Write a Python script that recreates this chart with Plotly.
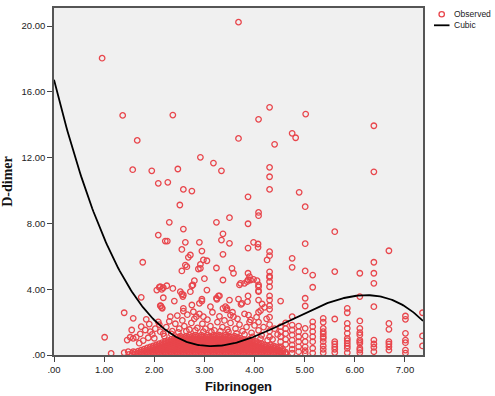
import numpy as np
import plotly.graph_objects as go

# ---------------- data ----------------
x_tick_vals = [0, 1, 2, 3, 4, 5, 6, 7]
x_tick_text = [".00", "1.00", "2.00", "3.00", "4.00", "5.00", "6.00", "7.00"]
y_tick_vals = [0, 4, 8, 12, 16, 20]
y_tick_text = [".00", "4.00", "8.00", "12.00", "16.00", "20.00"]
legend_labels = ["Observed", "Cubic"]

# isolated high observations (Fibrinogen, D-dimer)
high_pts = [
    (0.96, 18.05), (3.68, 20.24), (2.37, 14.59), (4.30, 15.06), (4.08, 14.33), (5.02, 14.65),
    (3.68, 13.17), (4.75, 13.48), (4.82, 13.21), (4.40, 12.81), (2.92, 12.02), (3.18, 11.67),
    (3.34, 11.20), (2.47, 11.31), (1.95, 11.20), (2.08, 10.44), (2.27, 10.50), (2.58, 10.07),
    (2.75, 9.97), (4.30, 11.41), (4.30, 10.84), (4.30, 10.07), (3.87, 9.62), (4.89, 9.89),
    (1.37, 14.57), (1.66, 13.05), (1.57, 11.27), (6.38, 13.94), (6.38, 11.14), (2.51, 9.12),
    (5.01, 9.02),
]

# mid-range observations
mid_pts = [
    (5.60, 7.50), (5.01, 6.77), (6.68, 6.34), (4.75, 5.88), (4.75, 5.33), (5.01, 5.11),
    (5.16, 4.86), (5.60, 5.07), (6.10, 4.97), (6.38, 5.64), (6.38, 4.97), (6.38, 4.36),
    (5.16, 4.12), (4.52, 3.28), (5.01, 3.45), (5.01, 2.98), (6.10, 3.55), (6.38, 2.94),
    (7.35, 2.57), (5.85, 2.84), (5.85, 2.57),
    (4.08, 8.67), (4.08, 8.47), (2.30, 8.07), (3.24, 8.07), (3.50, 8.35), (3.87, 7.98),
    (2.58, 7.66), (2.08, 7.29), (2.22, 6.93), (2.26, 6.93), (2.62, 6.85), (3.37, 7.37),
    (3.34, 6.99), (3.50, 6.79), (2.90, 6.85), (2.95, 6.32), (2.55, 6.42), (2.68, 5.94),
    (2.98, 5.78), (3.05, 5.73), (2.92, 5.51), (2.92, 5.27), (2.62, 5.47), (2.65, 5.37),
    (2.55, 5.11), (3.24, 5.29), (3.55, 5.27), (3.87, 4.97), (3.87, 4.56), (3.98, 6.85),
    (4.07, 6.75), (4.07, 6.55), (3.87, 6.50), (4.30, 6.28), (4.30, 6.04), (4.25, 5.78),
    (4.30, 5.06), (4.30, 4.72), (3.37, 6.12), (2.72, 6.08), (3.58, 4.97), (3.90, 4.76),
    (1.77, 5.64), (2.88, 5.23), (2.80, 4.52), (3.37, 4.56), (2.75, 4.21), (2.18, 4.09),
    (2.25, 4.21), (2.12, 4.15), (2.15, 3.99), (2.37, 4.05), (2.52, 3.85), (2.55, 3.71),
    (3.05, 3.95), (2.18, 3.48), (2.40, 3.28), (2.57, 3.55), (2.13, 2.98), (2.15, 2.88),
    (2.75, 3.04), (2.95, 3.28), (3.12, 2.94), (3.28, 3.59), (3.24, 3.45), (3.50, 3.34),
    (3.68, 3.40), (3.75, 3.14), (3.87, 3.59), (3.70, 4.26), (3.80, 4.36), (3.85, 4.46),
    (3.92, 4.56), (4.05, 4.52), (4.08, 4.15), (4.08, 3.85), (4.30, 4.15), (4.30, 3.59),
    (4.08, 3.34), (4.15, 3.10), (3.37, 2.84), (3.45, 2.84), (2.58, 2.84), (2.58, 2.67),
    (1.74, 3.51), (1.40, 2.57), (2.58, 3.65), (2.72, 3.85), (2.95, 3.39), (2.90, 3.14),
    (3.25, 3.39), (3.30, 3.59), (3.73, 3.08), (3.86, 3.24), (3.42, 2.94), (3.44, 2.74),
    (2.78, 2.63), (3.00, 4.64), (2.77, 4.26), (3.72, 4.36), (3.98, 4.60), (4.08, 4.26),
    (4.08, 3.91), (4.30, 4.80), (4.30, 4.46), (4.30, 3.34), (4.30, 2.78), (4.30, 3.00),
    (4.20, 2.90), (4.12, 2.70), (2.05, 3.95), (2.10, 4.12), (2.12, 3.00), (2.16, 2.84),
]

# lower scattered observations and the fringe above the dense band
low_pts = [
    (1.01, 1.08), (1.14, 0.10), (1.40, 0.14), (1.48, 0.20), (1.58, 0.20), (1.58, 2.23),
    (1.84, 2.17), (1.90, 1.88), (1.74, 1.72), (1.82, 1.52), (1.92, 1.42), (1.55, 1.52),
    (1.52, 1.08), (1.64, 1.08), (1.72, 1.28), (1.46, 0.91), (1.58, 1.01), (2.08, 2.02),
    (2.12, 1.42), (2.32, 2.33), (2.98, 2.33), (2.84, 2.33), (3.52, 2.43), (3.58, 2.33),
    (3.88, 2.43), (3.92, 2.13),
    (1.96, 1.25), (2.02, 1.60), (2.10, 1.85), (2.18, 1.30), (2.24, 1.70), (2.30, 2.05),
    (2.36, 1.45), (2.42, 1.90), (2.46, 2.40), (2.50, 1.60), (2.56, 2.10), (2.60, 1.75),
    (2.66, 2.45), (2.70, 1.55), (2.74, 1.95), (2.80, 2.20), (2.86, 1.65), (2.90, 2.50),
    (2.96, 1.90), (3.02, 1.60), (3.06, 2.15), (3.12, 1.75), (3.16, 2.60), (3.20, 1.50),
    (3.26, 2.00), (3.30, 2.35), (3.36, 1.70), (3.40, 2.10), (3.46, 1.55), (3.52, 1.95),
    (3.56, 2.60), (3.62, 1.60), (3.66, 2.20), (3.70, 1.85), (3.76, 1.45), (3.80, 2.50),
    (3.84, 1.70), (3.90, 2.00), (3.94, 1.35), (4.00, 1.80), (4.04, 2.30), (4.08, 1.50),
    (4.08, 2.00), (4.08, 2.60), (4.14, 1.20), (4.18, 1.70), (4.24, 2.20), (4.30, 1.10),
    (4.30, 1.45), (4.30, 1.85), (4.30, 2.30), (4.36, 0.95), (4.40, 1.60), (4.46, 1.25),
    (2.20, 1.15), (2.34, 1.28), (2.48, 1.38), (2.64, 1.45), (2.82, 1.50), (2.98, 1.42),
    (3.14, 1.40), (3.32, 1.45), (3.48, 1.40), (3.64, 1.32), (3.80, 1.25), (3.96, 1.10),
    (4.12, 1.00), (4.26, 0.90), (1.70, 0.72), (1.78, 0.88), (1.88, 1.05), (2.00, 1.02),
]

# dense band at the bottom: two staggered sets of D-dimer levels, and per column
# (Fibrinogen, which level set, how many levels are filled up from the axis)
band_levels_a = [0.04, 0.17, 0.30, 0.43, 0.56, 0.69, 0.82, 0.95, 1.08, 1.21]
band_levels_b = [0.10, 0.23, 0.36, 0.49, 0.62, 0.75, 0.88, 1.01, 1.14]
band_cols = [
    (1.50, "a", 1), (1.56, "b", 1), (1.62, "a", 2), (1.68, "b", 2), (1.74, "a", 3),
    (1.80, "b", 3), (1.86, "a", 4), (1.92, "b", 4), (1.98, "a", 5), (2.04, "b", 5),
    (2.10, "a", 6), (2.16, "b", 6), (2.22, "a", 7), (2.28, "b", 7), (2.34, "a", 8),
    (2.40, "b", 8), (2.46, "a", 9), (2.52, "b", 9), (2.58, "a", 9), (2.64, "b", 9),
    (2.70, "a", 10), (2.76, "b", 9), (2.82, "a", 10), (2.88, "b", 9), (2.94, "a", 10),
    (3.00, "b", 9), (3.06, "a", 10), (3.12, "b", 9), (3.18, "a", 10), (3.24, "b", 9),
    (3.30, "a", 10), (3.36, "b", 9), (3.42, "a", 10), (3.48, "b", 9), (3.54, "a", 9),
    (3.60, "b", 9), (3.66, "a", 9), (3.72, "b", 8), (3.78, "a", 8), (3.84, "b", 7),
    (3.90, "a", 8), (3.96, "b", 7), (4.02, "a", 7), (4.08, "b", 6), (4.14, "a", 6),
    (4.20, "b", 5), (4.26, "a", 5), (4.32, "b", 5), (4.38, "a", 5), (4.44, "b", 4),
    (4.50, "a", 4), (4.56, "b", 3), (4.62, "a", 2),
]

# columns of observations at higher Fibrinogen values
right_cols = [
    (4.52, [0.20, 0.50, 0.81, 1.11, 1.42, 1.72]),
    (4.62, [0.10, 0.65, 0.95, 1.30, 1.60, 1.95]),
    (4.75, [2.33, 1.82, 1.52, 1.22, 0.91, 0.61, 0.35, 0.12]),
    (4.88, [1.76, 1.42, 1.11, 0.81, 0.50, 0.20]),
    (5.01, [1.62, 1.16, 0.81, 0.50, 0.26, 0.10]),
    (5.16, [2.02, 1.72, 1.42, 1.11, 0.81, 0.41, 0.12]),
    (5.37, [2.23, 1.99, 1.62, 1.42, 1.28, 1.11, 1.01, 0.81, 0.55, 0.35, 0.14]),
    (5.60, [2.19, 0.81, 0.67, 0.50, 0.35, 0.15]),
    (5.85, [1.92, 1.62, 1.32, 1.01, 0.87, 0.71, 0.55, 0.41, 0.14]),
    (6.10, [2.07, 1.62, 1.36, 1.22, 0.91, 0.81, 0.71, 0.41, 0.30, 0.14]),
    (6.38, [0.91, 0.67, 0.47, 0.20]),
    (6.68, [1.92, 1.56, 0.81, 0.67, 0.50, 0.30]),
    (7.01, [2.37, 2.17, 1.32, 0.91, 0.75, 0.30, 0.12]),
    (7.35, [1.16, 0.55]),
]

# points
curve_fib = [0.00, 0.40, 0.83, 1.58, 2.25, 2.72, 3.12, 3.72, 4.52, 5.18, 6.18, 7.38]
curve_dd = [16.55, 12.66, 8.20, 3.54, 1.52, 0.81, 0.57, 0.81, 1.76, 2.88, 3.61, 2.02]

# ---------------- assemble ----------------
obs_x, obs_y = [], []
for grp in (high_pts, mid_pts, low_pts):
    for fx, dy in grp:
        obs_x.append(fx)
        obs_y.append(dy)
levels = {"a": band_levels_a, "b": band_levels_b}
for fx, which, n in band_cols:
    for dy in levels[which][:n]:
        obs_x.append(fx)
        obs_y.append(dy)
for fx, ys in right_cols:
    for dy in ys:
        obs_x.append(fx)
        obs_y.append(dy)

x_max = 7.36
y_max = 21.1
coef = np.polyfit(curve_fib, curve_dd, 3)
fit_x = np.linspace(0, x_max, 300)
fit_y = np.polyval(coef, fit_x)

red = "#e8464c"
fig = go.Figure()
fig.add_trace(go.Scatter(
    x=obs_x, y=obs_y, mode="markers", name=legend_labels[0], showlegend=False,
    marker=dict(symbol="circle-open", size=5.5, color=red, line=dict(width=1.3, color=red)),
    cliponaxis=True,
))
fig.add_trace(go.Scatter(
    x=fit_x, y=fit_y, mode="lines", name=legend_labels[1], showlegend=False,
    line=dict(color="black", width=1.8),
))

# ---- legend drawn at the top right, outside the plotting area ----
W, H = 495, 396
ML, MR, MT, MB = 54, 72, 8, 41
PW, PH = W - ML - MR, H - MT - MB


def px(xp):
    return (xp - ML) / PW


def py(yp):
    return (H - MB - yp) / PH


leg_font = dict(family="Liberation Sans, Arial", size=8.5, color="#222")
shapes = [
    dict(type="circle", xref="paper", yref="paper",
         x0=px(439.0), x1=px(444.4), y0=py(16.9), y1=py(11.6),
         line=dict(color=red, width=1.3), fillcolor="rgba(0,0,0,0)"),
    dict(type="line", xref="paper", yref="paper",
         x0=px(434.0), x1=px(449.5), y0=py(25.3), y1=py(25.3),
         line=dict(color="black", width=1.8)),
]
annotations = [
    dict(text=legend_labels[0], xref="paper", yref="paper", x=px(452.0), y=py(14.3),
         xanchor="left", yanchor="middle", showarrow=False, font=leg_font),
    dict(text=legend_labels[1], xref="paper", yref="paper", x=px(452.0), y=py(25.3),
         xanchor="left", yanchor="middle", showarrow=False, font=leg_font),
]

tick_font = dict(family="Liberation Sans, Arial", size=9.5, color="#222")
fig.update_layout(
    width=W, height=H,
    margin=dict(l=ML, r=MR, t=MT, b=MB, autoexpand=False),
    paper_bgcolor="white",
    plot_bgcolor="#f0f0f0",
    showlegend=False,
    shapes=shapes,
    annotations=annotations,
    xaxis=dict(
        range=[0, x_max], tickvals=x_tick_vals, ticktext=x_tick_text, automargin=False,
        showgrid=False, zeroline=False, showline=True, linecolor="#555", linewidth=1.5,
        mirror=True, ticks="outside", ticklen=5, tickcolor="#444", tickfont=tick_font,
        title=dict(text="Fibrinogen", standoff=8,
                   font=dict(family="Liberation Sans, Arial", size=13, color="#111", weight="bold")),
    ),
    yaxis=dict(
        range=[0, y_max], tickvals=y_tick_vals, ticktext=y_tick_text, automargin=False,
        showgrid=False, zeroline=False, showline=True, linecolor="#555", linewidth=1.5,
        mirror=True, ticks="outside", ticklen=5, tickcolor="#444", tickfont=tick_font,
        title=dict(text="D-dimer", standoff=10,
                   font=dict(family="Liberation Serif, Times New Roman", size=14, color="#111", weight="bold")),
    ),
)

fig.write_html(
    "out.html",
    config={"displayModeBar": False},
    post_script="document.body.style.margin='0';document.body.style.overflow='hidden';",
)
